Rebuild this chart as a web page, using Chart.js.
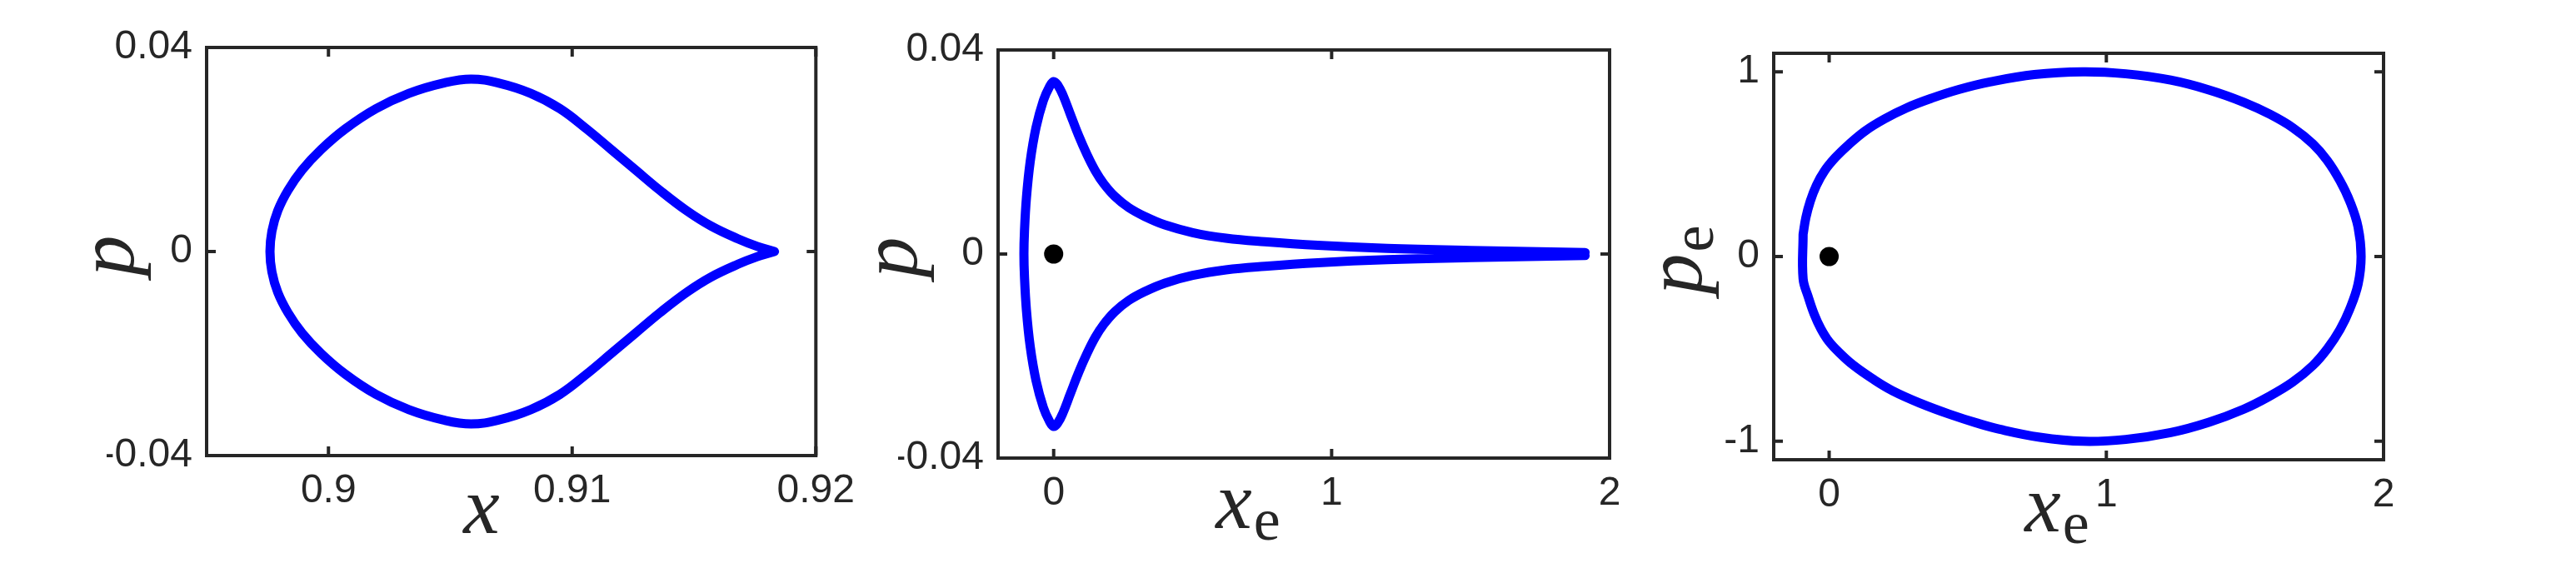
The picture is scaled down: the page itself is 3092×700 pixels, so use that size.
<!DOCTYPE html>
<html>
<head>
<meta charset="utf-8">
<script src="https://cdn.jsdelivr.net/npm/chart.js@4.4.0/dist/chart.umd.min.js"></script>
<style>
  html, body { margin: 0; padding: 0; background: #fff; }
  #wrap { position: relative; width: 3092px; height: 700px; overflow: hidden; background: #fff; }
  #wrap canvas { position: absolute; top: 0; }
</style>
</head>
<body>
<div id="wrap">
  <canvas id="c1" width="1040" height="700" style="left:0px"></canvas>
  <canvas id="c2" width="950" height="700" style="left:1040px"></canvas>
  <canvas id="c3" width="1102" height="700" style="left:1990px"></canvas>
</div>
<script>
// three phase-space panels: x-p, xe-p, xe-pe
const INK = '#262626';
const BLUE = '#0000ff';
const TICK_FONT = '"Liberation Sans", Arial, Helvetica, sans-serif';
const MATH_FONT = '"Liberation Serif", "Times New Roman", serif';
const CURVE_W = 11;
const CURVE_TENSION = 0.4;

// panel 1 : x / p
const x1Ticks = [0.9, 0.91, 0.92];
const x1TickLabels = ['0.9', '0.91', '0.92'];
const p1Ticks = [-0.04, 0, 0.04];
const p1TickLabels = ['-0.04', '0', '0.04'];
const x1Vals = [0.9183, 0.9176, 0.9168, 0.9157, 0.9147, 0.9136, 0.9126, 0.9116, 0.9106, 0.9095, 0.9083, 0.9070, 0.90585,
                0.9047, 0.9033, 0.90195, 0.90068, 0.8997, 0.89892, 0.89834, 0.89792, 0.89768, 0.8976,
                0.89768, 0.89792, 0.89834, 0.89892, 0.8997, 0.90068, 0.90195, 0.9033, 0.9047,
                0.90585, 0.9070, 0.9083, 0.9095, 0.9106, 0.9116, 0.9126, 0.9136, 0.9147, 0.9157, 0.9168, 0.9176, 0.9183];
const p1Vals = [0.0000, 0.0010, 0.0025, 0.0050, 0.0080, 0.0120, 0.0160, 0.0200, 0.0240, 0.0280, 0.0310, 0.0330, 0.0338,
                0.0330, 0.0310, 0.0280, 0.0240, 0.0200, 0.0160, 0.0120, 0.0080, 0.0040, 0.0000,
                -0.0040, -0.0080, -0.0120, -0.0160, -0.0200, -0.0240, -0.0280, -0.0310, -0.0330,
                -0.0338, -0.0330, -0.0310, -0.0280, -0.0240, -0.0200, -0.0160, -0.0120, -0.0080, -0.0050, -0.0025, -0.0010, 0.0000];

// panel 2 : xe / p
const x2Ticks = [0, 1, 2];
const x2TickLabels = ['0', '1', '2'];
const p2Ticks = [-0.04, 0, 0.04];
const p2TickLabels = ['-0.04', '0', '0.04'];
const x2Vals = [1.912, 1.5, 1.2, 0.95, 0.76, 0.62, 0.50, 0.40, 0.33, 0.27, 0.22, 0.18, 0.15, 0.12, 0.09, 0.06, 0.033, 0.015, 0,
                -0.015, -0.037, -0.0635, -0.0845, -0.098, -0.105, -0.107,
                -0.105, -0.098, -0.0845, -0.0635, -0.037, -0.015,
                0, 0.015, 0.033, 0.06, 0.09, 0.12, 0.15, 0.18, 0.22, 0.27, 0.33, 0.40, 0.50, 0.62, 0.76, 0.95, 1.2, 1.5, 1.912];
const p2Vals = [0.0003, 0.0007, 0.0011, 0.0017, 0.0024, 0.0031, 0.0042, 0.0057, 0.0073, 0.0091, 0.0113, 0.0138, 0.0163, 0.0195, 0.0232, 0.0274, 0.0312, 0.0331, 0.0338,
                0.0328, 0.0301, 0.0248, 0.0181, 0.0110, 0.0045, 0.0000,
                -0.0045, -0.0110, -0.0181, -0.0248, -0.0301, -0.0328,
                -0.0338, -0.0331, -0.0312, -0.0274, -0.0232, -0.0195, -0.0163, -0.0138, -0.0113, -0.0091, -0.0073, -0.0057, -0.0042, -0.0031, -0.0024, -0.0017, -0.0011, -0.0007, -0.0003];

// panel 3 : xe / pe
const x3Ticks = [0, 1, 2];
const x3TickLabels = ['0', '1', '2'];
const p3Ticks = [-1, 0, 1];
const p3TickLabels = ['-1', '0', '1'];
const x3Vals = [-0.094, -0.084, -0.068, -0.046, -0.017, 0.022, 0.07, 0.13, 0.2, 0.28, 0.37, 0.47, 0.58, 0.74, 0.915,
                1.07, 1.232, 1.37, 1.496, 1.59, 1.672, 1.745, 1.797, 1.843, 1.878, 1.908, 1.919,
                1.908, 1.878, 1.843, 1.797, 1.745, 1.672, 1.59, 1.496, 1.37, 1.232, 1.07, 0.915,
                0.76, 0.615, 0.53, 0.439, 0.33, 0.228, 0.155, 0.087, 0.040, -0.001, -0.030, -0.054, -0.075, -0.094, -0.094];
const p3Vals = [0.12, 0.21, 0.30, 0.385, 0.463, 0.535, 0.605, 0.68, 0.745, 0.805, 0.857, 0.905, 0.945, 0.985, 1.0,
                0.989, 0.955, 0.902, 0.835, 0.770, 0.698, 0.61, 0.52, 0.41, 0.30, 0.16, 0.0,
                -0.15, -0.285, -0.395, -0.50, -0.59, -0.68, -0.755, -0.826, -0.897, -0.953, -0.99, -1.0,
                -0.978, -0.935, -0.90, -0.856, -0.795, -0.726, -0.66, -0.588, -0.525, -0.459, -0.39, -0.312, -0.22, -0.12, 0.12];

// fixed points (black dots)
const dot2 = [0, 0];
const dot3 = [0, 0];

const Y_AXIS_W = 120;
const X_AXIS_H = 100;

function toPoints(xs, ys){
  return xs.map((v, i) => ({ x: v, y: ys[i] }));
}

function drawMath(ctx, main, sub){
  ctx.textAlign = 'left';
  ctx.textBaseline = 'alphabetic';
  ctx.font = 'italic 98px ' + MATH_FONT;
  const w1 = ctx.measureText(main).width;
  ctx.font = '72px ' + MATH_FONT;
  const w2 = sub ? ctx.measureText(sub).width : 0;
  const start = -(w1 + w2) / 2;
  ctx.font = 'italic 98px ' + MATH_FONT;
  ctx.fillText(main, start, 0);
  if (sub) {
    ctx.font = '72px ' + MATH_FONT;
    ctx.fillText(sub, start + w1 + 2, 14);
  }
}

// make sure the line elements carry the curve width / smoothing from the dataset
const curvePlugin = {
  id: 'curveStyle',
  beforeDatasetsDraw(chart){
    chart.data.datasets.forEach((ds, i) => {
      if (!ds.showLine) return;
      const line = chart.getDatasetMeta(i).dataset;
      if (!line) return;
      line.options = Object.assign({}, line.options, {
        borderWidth: ds.borderWidth, tension: ds.tension, borderColor: ds.borderColor,
        borderJoinStyle: 'round', borderCapStyle: 'round', cubicInterpolationMode: 'default', stepped: false
      });
      line._pointsUpdated = false;
      line._path = undefined;
      line.updateControlPoints(chart.chartArea, 'x');
    });
  }
};

// box, inward ticks on all four sides, axis titles
const framePlugin = {
  id: 'frame',
  afterDraw(chart, args, opts){
    const ctx = chart.ctx;
    const a = chart.chartArea;
    const sx = chart.scales.x, sy = chart.scales.y;
    ctx.save();
    ctx.strokeStyle = INK;
    ctx.lineWidth = 4;
    ctx.lineCap = 'butt';
    ctx.lineJoin = 'miter';
    ctx.beginPath();
    sx.ticks.forEach(t => {
      const px = sx.getPixelForValue(t.value);
      ctx.moveTo(px, a.bottom); ctx.lineTo(px, a.bottom - 11);
      ctx.moveTo(px, a.top); ctx.lineTo(px, a.top + 11);
    });
    sy.ticks.forEach(t => {
      const py = sy.getPixelForValue(t.value);
      ctx.moveTo(a.left, py); ctx.lineTo(a.left + 11, py);
      ctx.moveTo(a.right, py); ctx.lineTo(a.right - 11, py);
    });
    ctx.stroke();
    ctx.strokeRect(a.left, a.top, a.right - a.left, a.bottom - a.top);

    ctx.fillStyle = INK;
    const off = opts.offset || 0;
    if (opts.xTitle) {
      ctx.save();
      ctx.translate(opts.xTitle.cx - off, opts.xTitle.base);
      drawMath(ctx, opts.xTitle.main, opts.xTitle.sub);
      ctx.restore();
    }
    if (opts.yTitle) {
      ctx.save();
      ctx.translate(opts.yTitle.bx - off, opts.yTitle.cy);
      ctx.rotate(-Math.PI / 2);
      drawMath(ctx, opts.yTitle.main, opts.yTitle.sub);
      ctx.restore();
    }
    ctx.restore();
  }
};

function makePanel(id, cfg){
  const canvas = document.getElementById(id);
  const datasets = [];
  if (cfg.dot) {
    datasets.push({
      data: [{ x: cfg.dot[0], y: cfg.dot[1] }],
      showLine: false, pointRadius: 11.5, pointBackgroundColor: '#000', pointBorderWidth: 0
    });
  }
  datasets.push({
    data: toPoints(cfg.xs, cfg.ys),
    showLine: true, fill: false, pointRadius: 0,
    borderColor: BLUE, borderWidth: CURVE_W, tension: CURVE_TENSION
  });
  const tickCommon = { color: INK, font: { family: TICK_FONT, size: 48 }, autoSkip: false, maxRotation: 0, minRotation: 0 };
  return new Chart(canvas, {
    type: 'line',
    data: { datasets },
    options: {
      responsive: false, animation: false, devicePixelRatio: 1,
      elements: { line: { borderWidth: CURVE_W, tension: CURVE_TENSION } },
      layout: { padding: {
        left: cfg.box.left - cfg.offset - Y_AXIS_W,
        right: cfg.offset + canvas.width - cfg.box.right,
        top: cfg.box.top,
        bottom: 700 - cfg.box.bottom - X_AXIS_H
      } },
      plugins: {
        legend: { display: false },
        tooltip: { enabled: false },
        frame: { offset: cfg.offset, xTitle: cfg.xTitle, yTitle: cfg.yTitle }
      },
      scales: {
        x: {
          type: 'linear', min: cfg.xRange[0], max: cfg.xRange[1],
          grid: { display: false, drawTicks: false }, border: { display: false },
          afterBuildTicks: s => { s.ticks = cfg.xTicks.map(v => ({ value: v })); },
          afterFit: s => { s.height = X_AXIS_H; },
          ticks: Object.assign({ padding: 14, callback: (v, i) => cfg.xTickLabels[i] }, tickCommon)
        },
        y: {
          type: 'linear', min: cfg.yRange[0], max: cfg.yRange[1],
          grid: { display: false, drawTicks: false }, border: { display: false },
          afterBuildTicks: s => { s.ticks = cfg.yTicks.map(v => ({ value: v })); },
          afterFit: s => { s.width = Y_AXIS_W; },
          ticks: Object.assign({ padding: 17, callback: (v, i) => cfg.yTickLabels[i] }, tickCommon)
        }
      }
    },
    plugins: [curvePlugin, framePlugin]
  });
}

makePanel('c1', {
  offset: 0, box: { left: 248, right: 983, top: 57, bottom: 547 },
  xRange: [0.895, 0.92], yRange: [-0.04, 0.04],
  xTicks: x1Ticks, xTickLabels: x1TickLabels, yTicks: p1Ticks, yTickLabels: p1TickLabels,
  xs: x1Vals, ys: p1Vals,
  xTitle: { main: 'x', sub: '', cx: 578, base: 640 },
  yTitle: { main: 'p', sub: '', bx: 160, cy: 307 }
});

makePanel('c2', {
  offset: 1040, box: { left: 1198, right: 1932, top: 60, bottom: 550 },
  xRange: [-0.2, 2], yRange: [-0.04, 0.04],
  xTicks: x2Ticks, xTickLabels: x2TickLabels, yTicks: p2Ticks, yTickLabels: p2TickLabels,
  xs: x2Vals, ys: p2Vals, dot: dot2,
  xTitle: { main: 'x', sub: 'e', cx: 1497, base: 634 },
  yTitle: { main: 'p', sub: '', bx: 1100, cy: 309 }
});

makePanel('c3', {
  offset: 1990, box: { left: 2129, right: 2861, top: 64, bottom: 552 },
  xRange: [-0.2, 2], yRange: [-1.1, 1.1],
  xTicks: x3Ticks, xTickLabels: x3TickLabels, yTicks: p3Ticks, yTickLabels: p3TickLabels,
  xs: x3Vals, ys: p3Vals, dot: dot3,
  xTitle: { main: 'x', sub: 'e', cx: 2468, base: 638 },
  yTitle: { main: 'p', sub: 'e', bx: 2042, cy: 313 }
});
</script>
</body>
</html>
